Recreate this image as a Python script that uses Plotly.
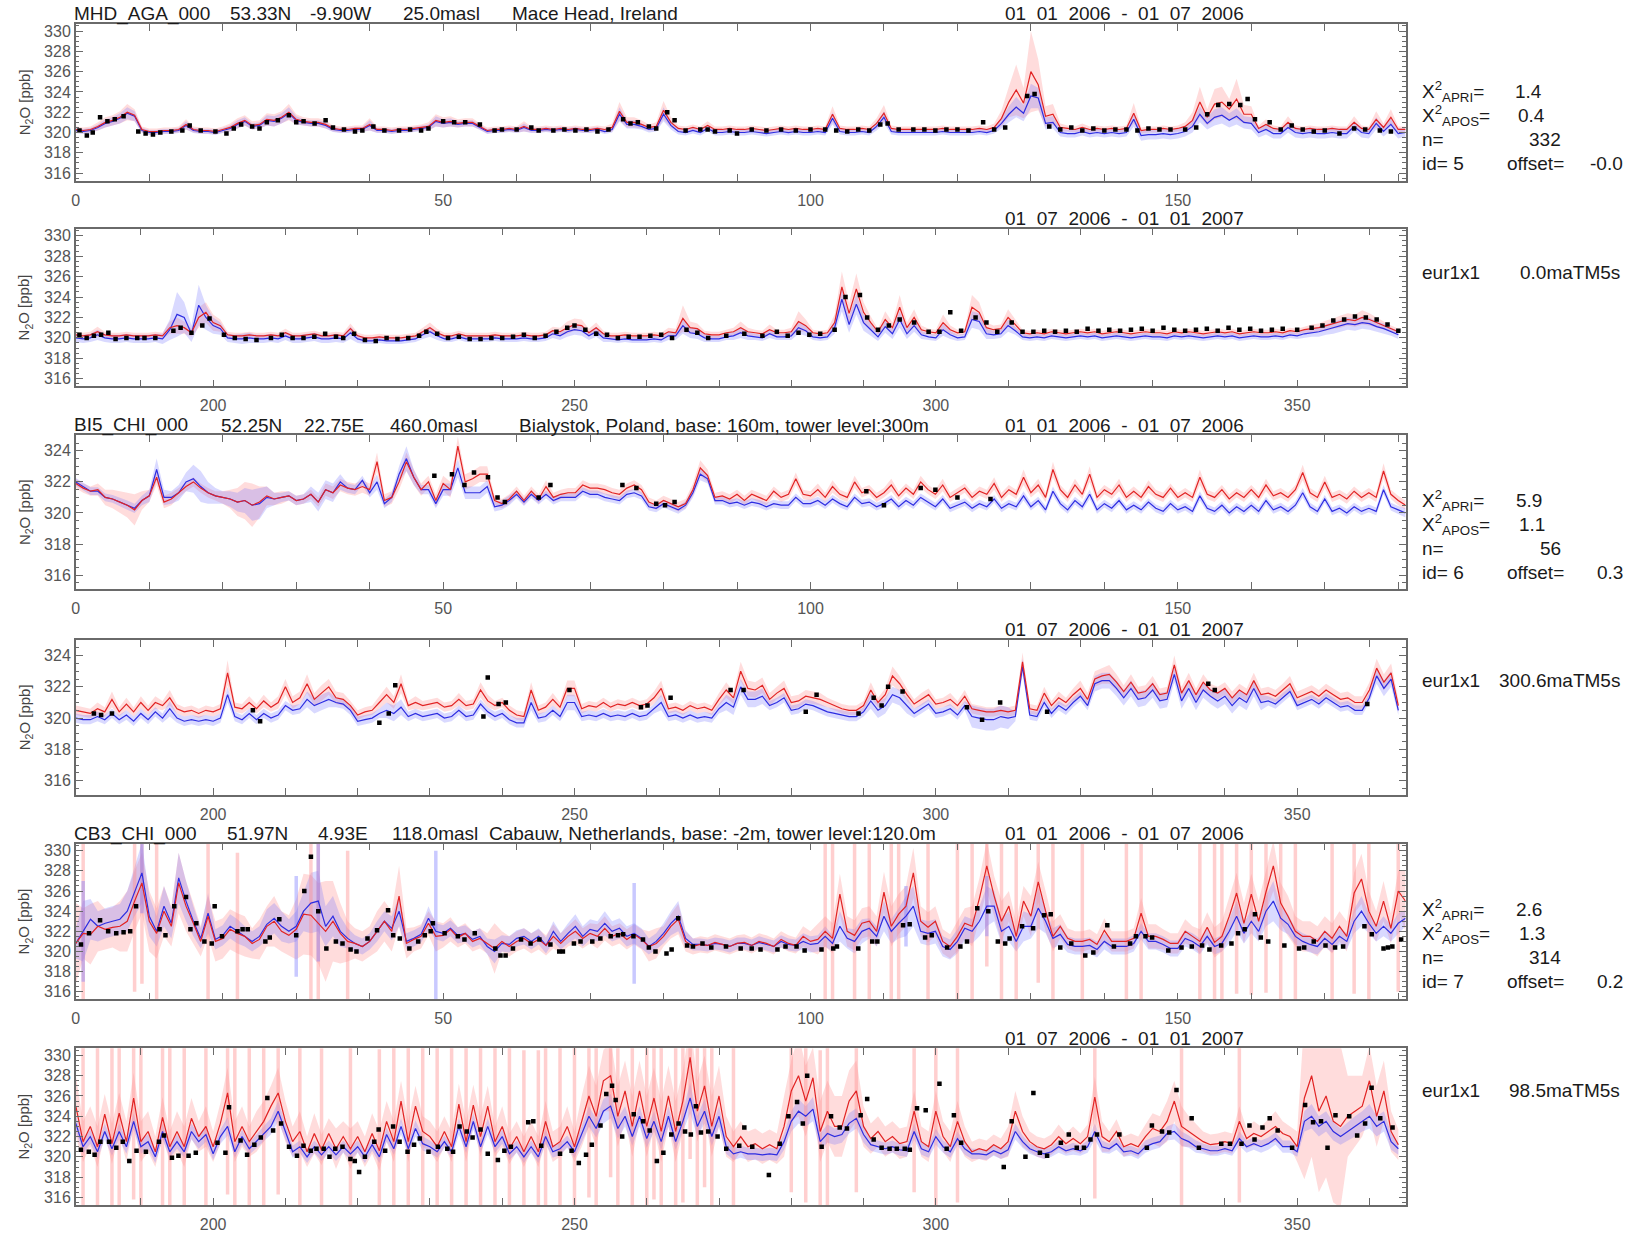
import plotly.graph_objects as go

# ============================ DATA ============================
DAYS = list(range(365))

# ---- Mace Head (MHD) ----
MHD_PRIOR = [
    320.3, 320.2, 320.3, 320.6, 321.0, 321.2, 321.5, 322.0, 321.7, 320.3,
    320.1, 320.1, 320.2, 320.2, 320.3, 320.8, 320.3, 320.2, 320.2, 320.1,
    320.3, 320.5, 320.9, 321.2, 320.7, 320.8, 321.3, 321.2, 321.5, 322.0,
    321.3, 321.1, 321.0, 321.0, 320.8, 320.4, 320.3, 320.3, 320.4, 320.4,
    320.8, 320.3, 320.3, 320.2, 320.3, 320.3, 320.4, 320.5, 320.6, 321.2,
    321.0, 321.1, 320.9, 321.0, 321.0, 320.6, 320.2, 320.3, 320.3, 320.4,
    320.3, 320.6, 320.3, 320.3, 320.4, 320.3, 320.4, 320.3, 320.4, 320.3,
    320.3, 320.4, 320.3, 320.5, 322.1, 321.0, 321.0, 320.8, 320.5, 320.6,
    322.2, 321.0, 320.4, 320.3, 320.5, 320.3, 320.7, 320.3, 320.3, 320.4,
    320.3, 320.3, 320.4, 320.3, 320.2, 320.3, 320.4, 320.3, 320.4, 320.3,
    320.3, 320.4, 320.3, 321.8, 320.4, 320.3, 320.3, 320.4, 320.3, 320.9,
    321.9, 320.4, 320.3, 320.3, 320.3, 320.3, 320.3, 320.3, 320.4, 320.3,
    320.3, 320.3, 320.3, 320.4, 320.3, 320.5, 321.4, 323.0, 324.2, 322.9,
    326.0, 324.7, 321.6, 321.8, 320.5, 320.4, 320.3, 320.5, 320.3, 320.4,
    320.3, 320.4, 320.3, 320.4, 321.9, 320.2, 320.3, 320.3, 320.4, 320.3,
    320.4, 320.6, 321.2, 323.0, 321.5, 322.8, 323.0, 322.3, 323.3, 321.8,
    321.8, 320.4, 320.8, 320.4, 320.3, 321.0, 320.4, 320.3, 320.4, 320.3,
    320.3, 320.4, 320.3, 320.3, 321.0, 320.4, 320.3, 321.3, 320.5, 321.5,
    320.3,
    320.3, 320.2, 320.3, 320.6, 320.3, 320.2, 320.2, 320.3, 320.2, 320.2,
    320.2, 320.3, 320.2, 321.0, 321.2, 321.0, 320.5, 322.0, 322.5, 321.5,
    321.2, 320.3, 320.2, 320.2, 320.3, 320.2, 320.2, 320.3, 320.2, 320.5,
    320.2, 320.2, 320.3, 320.4, 320.2, 320.2, 320.3, 320.2, 320.9, 320.2,
    320.0, 320.0, 320.1, 320.0, 320.0, 320.0, 320.1, 320.2, 320.6, 321.0,
    320.5, 320.2, 320.2, 320.4, 320.2, 320.2, 320.2, 320.2, 320.3, 320.2,
    320.2, 320.2, 320.3, 320.2, 320.2, 320.3, 320.7, 320.6, 321.0, 321.3,
    321.2, 320.5, 321.0, 320.4, 320.2, 320.2, 320.3, 320.2, 320.2, 320.2,
    320.3, 320.2, 320.6, 320.5, 321.9, 321.0, 320.9, 320.4, 320.3, 320.3,
    320.5, 320.6, 321.0, 320.6, 320.5, 320.4, 320.8, 320.5, 320.5, 320.6,
    321.6, 321.2, 320.5, 320.4, 320.5, 321.5, 325.0, 322.4, 324.8, 322.5,
    321.5, 320.6, 321.8, 321.0, 323.0, 321.0, 322.0, 320.8, 320.6, 320.5,
    321.5, 320.8, 320.5, 320.6, 323.0, 322.5, 321.0, 320.8, 320.9, 322.0,
    321.3, 320.5, 320.4, 320.5, 320.4, 320.6, 320.5, 320.4, 320.5, 320.6,
    320.5, 320.6, 320.4, 320.5, 320.6, 320.5, 320.4, 320.5, 320.6, 320.5,
    320.5, 320.4, 320.6, 320.5, 320.6, 320.5, 320.4, 320.5, 320.6, 320.5,
    320.6, 320.4, 320.5, 320.6, 320.5, 320.5, 320.6, 320.5, 320.7, 320.6,
    320.8, 320.9, 321.0, 321.2, 321.4, 321.6, 321.8, 321.7, 322.0, 321.8,
    321.5, 321.2, 320.9, 320.6,
]
MHD_POST = [
    320.2, 320.1, 320.2, 320.5, 320.9, 321.1, 321.4, 321.9, 321.6, 320.2,
    320.0, 320.0, 320.1, 320.1, 320.2, 320.7, 320.2, 320.1, 320.1, 320.0,
    320.2, 320.4, 320.8, 321.1, 320.6, 320.7, 321.2, 321.1, 321.4, 321.9,
    321.2, 321.0, 320.9, 320.9, 320.7, 320.3, 320.2, 320.2, 320.3, 320.3,
    320.7, 320.2, 320.2, 320.1, 320.2, 320.2, 320.3, 320.4, 320.5, 321.1,
    320.9, 321.0, 320.8, 320.9, 320.9, 320.5, 320.1, 320.2, 320.2, 320.3,
    320.2, 320.5, 320.2, 320.2, 320.3, 320.2, 320.3, 320.2, 320.3, 320.2,
    320.2, 320.3, 320.1, 320.3, 321.8, 320.8, 320.8, 320.6, 320.3, 320.4,
    321.8, 320.7, 320.1, 320.0, 320.2, 320.0, 320.4, 320.0, 320.0, 320.1,
    320.0, 320.0, 320.1, 320.0, 319.9, 320.0, 320.1, 320.0, 320.1, 320.0,
    320.0, 320.1, 320.0, 321.4, 320.1, 320.0, 320.0, 320.1, 320.0, 320.6,
    321.5, 320.1, 320.0, 320.0, 320.0, 320.0, 320.0, 320.0, 320.1, 320.0,
    320.0, 320.0, 320.0, 320.1, 320.0, 320.2, 320.9, 321.8, 322.5, 321.9,
    323.6, 323.4, 320.9, 321.0, 320.0, 319.9, 319.9, 320.1, 319.9, 320.0,
    319.9, 320.0, 319.9, 320.0, 321.3, 319.7, 319.8, 319.8, 319.9, 319.8,
    319.9, 320.1, 320.6, 321.8, 320.9, 321.5, 321.7, 321.2, 321.6, 321.0,
    320.9, 320.0, 320.3, 319.9, 319.9, 320.5, 320.0, 319.9, 320.0, 319.9,
    319.9, 320.0, 319.9, 319.9, 320.6, 320.0, 319.9, 320.9, 320.1, 320.8,
    319.9,
    320.0, 319.9, 320.0, 320.3, 320.0, 319.9, 319.9, 320.0, 319.9, 319.9,
    319.9, 320.0, 319.9, 320.8, 322.3, 322.0, 320.4, 323.2, 322.0, 321.2,
    320.9, 320.0, 319.9, 319.9, 320.0, 319.9, 319.9, 320.0, 319.9, 320.2,
    319.9, 319.9, 320.0, 320.1, 319.9, 319.9, 320.0, 319.9, 320.5, 319.9,
    319.7, 319.7, 319.8, 319.7, 319.7, 319.7, 319.8, 319.9, 320.3, 320.6,
    320.2, 319.9, 319.9, 320.1, 319.9, 319.9, 319.9, 319.9, 320.0, 319.9,
    319.9, 319.9, 320.0, 319.9, 319.9, 320.0, 320.4, 320.2, 320.6, 320.8,
    320.7, 320.2, 320.6, 320.0, 319.9, 319.8, 319.9, 319.8, 319.8, 319.8,
    319.9, 319.8, 320.2, 320.2, 321.2, 320.5, 320.4, 320.0, 319.9, 319.9,
    320.1, 320.2, 320.5, 320.2, 320.1, 320.0, 320.4, 320.1, 320.1, 320.2,
    321.0, 320.7, 320.1, 320.0, 320.1, 321.0, 323.8, 321.3, 323.3, 321.5,
    320.8, 320.1, 321.1, 320.4, 321.8, 320.4, 321.2, 320.3, 320.1, 320.0,
    320.8, 320.3, 320.0, 320.1, 321.8, 321.6, 320.4, 320.3, 320.4, 321.2,
    320.7, 320.1, 320.0, 320.1, 320.0, 320.2, 320.1, 320.0, 320.1, 320.2,
    320.1, 320.2, 320.0, 320.1, 320.2, 320.1, 320.0, 320.1, 320.2, 320.1,
    320.1, 320.0, 320.2, 320.1, 320.2, 320.1, 320.0, 320.1, 320.2, 320.1,
    320.2, 320.0, 320.1, 320.2, 320.1, 320.1, 320.2, 320.1, 320.3, 320.2,
    320.4, 320.5, 320.6, 320.8, 321.0, 321.2, 321.4, 321.3, 321.5, 321.4,
    321.1, 320.9, 320.6, 320.3,
]
MHD_PRIOR_UNC = [
    .3, .3, .3, .4, .5, .5, .6, .8, .6, .3,
    .3, .3, .3, .3, .3, .5, .3, .3, .3, .3,
    .3, .4, .5, .5, .4, .4, .6, .6, .6, .8,
    .5, .4, .4, .4, .4, .3, .3, .3, .3, .3,
    .6, .3, .3, .3, .3, .3, .3, .3, .4, .6,
    .5, .5, .4, .4, .4, .3, .3, .3, .3, .3,
    .3, .5, .3, .3, .3, .3, .3, .3, .3, .3,
    .3, .3, .3, .4, .9, .5, .5, .4, .3, .4,
    .9, .5, .3, .3, .3, .3, .4, .3, .3, .3,
    .3, .3, .3, .3, .3, .3, .3, .3, .3, .3,
    .3, .3, .3, .8, .3, .3, .3, .3, .3, .5,
    .8, .3, .3, .3, .3, .3, .3, .3, .3, .3,
    .3, .3, .3, .3, .3, .4, .8, 1.5, 2.5, 1.5,
    4.0, 2.5, 1.0, 1.0, .4, .3, .3, .4, .3, .3,
    .3, .3, .3, .3, 1.0, .3, .3, .3, .3, .3,
    .3, .4, .8, 1.5, .8, 1.5, 1.5, 1.0, 2.0, .9,
    .8, .3, .5, .3, .3, .6, .3, .3, .3, .3,
    .3, .3, .3, .3, .6, .3, .3, .8, .4, .8,
    .3,
    .3, .3, .3, .5, .3, .3, .3, .3, .3, .3,
    .3, .3, .3, .6, .8, .6, .4, 1.0, 1.0, .8,
    .6, .3, .3, .3, .3, .3, .3, .3, .3, .4,
    .3, .3, .3, .3, .3, .3, .3, .3, .5, .3,
    .3, .3, .3, .3, .3, .3, .3, .3, .4, .5,
    .4, .3, .3, .3, .3, .3, .3, .3, .3, .3,
    .3, .3, .3, .3, .3, .3, .4, .4, .6, .6,
    .6, .4, .5, .3, .3, .3, .3, .3, .3, .3,
    .3, .3, .4, .4, 1.3, .6, .5, .3, .3, .3,
    .3, .4, .6, .4, .3, .3, .5, .3, .3, .4,
    1.0, .6, .3, .3, .3, .8, 1.5, 1.0, 1.5, 1.0,
    .6, .3, .8, .5, 1.2, .5, .8, .4, .3, .3,
    .8, .4, .3, .3, 1.2, 1.0, .5, .4, .4, .8,
    .5, .3, .3, .3, .3, .3, .3, .3, .3, .3,
    .3, .3, .3, .3, .3, .3, .3, .3, .3, .3,
    .3, .3, .3, .3, .3, .3, .3, .3, .3, .3,
    .3, .3, .3, .3, .3, .3, .3, .3, .3, .3,
    .3, .4, .4, .5, .5, .6, .6, .6, .7, .6,
    .5, .4, .3, .3,
]
MHD_POST_UNC = [
    .25, .25, .25, .3, .4, .4, .5, .6, .5, .25,
    .25, .25, .25, .25, .25, .4, .25, .25, .25, .25,
    .25, .3, .4, .4, .3, .3, .5, .5, .5, .6,
    .4, .3, .3, .3, .3, .25, .25, .25, .25, .25,
    .5, .25, .25, .25, .25, .25, .25, .25, .3, .5,
    .4, .4, .3, .3, .3, .25, .25, .25, .25, .25,
    .25, .4, .25, .25, .25, .25, .25, .25, .25, .25,
    .25, .25, .25, .3, .7, .4, .4, .3, .3, .3,
    .7, .4, .3, .3, .3, .3, .3, .3, .3, .3,
    .3, .3, .3, .3, .3, .3, .3, .3, .3, .3,
    .3, .3, .3, .6, .3, .3, .3, .3, .3, .4,
    .6, .3, .3, .3, .3, .3, .3, .3, .3, .3,
    .3, .3, .3, .3, .3, .3, .5, .8, 1.0, .8,
    1.2, 1.0, .6, .6, .4, .4, .4, .4, .4, .4,
    .4, .4, .4, .4, .7, .5, .5, .5, .5, .5,
    .5, .5, .6, .8, .6, .8, .8, .7, .8, .6,
    .6, .5, .5, .5, .5, .5, .5, .5, .5, .5,
    .5, .5, .5, .5, .5, .5, .5, .6, .5, .6,
    .5,
    .4, .4, .4, .5, .4, .4, .4, .4, .4, .4,
    .4, .4, .5, 1.0, 2.2, 1.5, .8, 2.0, 1.2, .8,
    .6, .4, .4, .5, .5, .4, .4, .4, .4, .4,
    .4, .4, .4, .4, .4, .4, .4, .4, .6, .4,
    .3, .3, .3, .3, .3, .3, .3, .3, .4, .5,
    .4, .3, .3, .3, .3, .3, .3, .3, .3, .3,
    .3, .3, .3, .3, .3, .3, .4, .4, .5, .5,
    .5, .4, .5, .4, .3, .3, .3, .3, .3, .3,
    .3, .3, .4, .4, .8, .5, .5, .4, .3, .3,
    .3, .4, .5, .4, .3, .3, .4, .3, .3, .4,
    .6, .5, .3, .3, .3, .6, 1.2, .8, 1.0, .8,
    .6, .4, .6, .5, .8, .5, .6, .4, .3, .3,
    .6, .4, .3, .3, .8, .8, .5, .4, .4, .6,
    .4, .3, .3, .3, .3, .3, .3, .3, .3, .3,
    .3, .3, .3, .3, .3, .3, .3, .3, .3, .3,
    .3, .3, .3, .3, .3, .3, .3, .3, .3, .3,
    .3, .3, .3, .3, .3, .3, .3, .3, .3, .3,
    .4, .4, .5, .5, .6, .6, .6, .6, .6, .6,
    .5, .5, .4, .4,
]
MHD_PRIOR_STREAKS = []
MHD_POST_STREAKS = []
MHD_OBS = [
    (0.5, 320.2), (1.5, 319.7), (2.3, 320.0), (3.3, 321.5), (4.3, 321.1), (5.3, 321.3),
    (6.5, 321.6), (8.5, 320.1), (9.5, 319.9), (10.5, 319.8), (11.5, 320.0), (13, 320.1),
    (14.5, 320.2), (15.5, 320.7), (17, 320.2), (19, 320.1), (20.5, 319.9), (21.5, 320.4),
    (22.5, 320.8), (24, 320.6), (25, 320.4), (26, 321.0), (27.5, 321.2), (29, 321.7),
    (30, 321.0), (31, 321.1), (32.5, 320.9), (34, 321.2), (35, 320.5), (36.5, 320.3),
    (38, 320.1), (39, 320.2), (40.5, 320.6), (42, 320.2), (44, 320.2), (45.5, 320.3),
    (47, 320.2), (48, 320.4), (50, 321.1), (51.5, 321.0), (53, 321.0), (55, 320.8),
    (57, 320.2), (58, 320.3), (60, 320.3), (62, 320.5), (63, 320.2), (65, 320.2),
    (66.5, 320.3), (68, 320.2), (69.5, 320.3), (71, 320.1), (72.5, 320.3), (74.5, 321.3),
    (75.5, 320.9), (76.5, 321.0), (78, 320.6), (79, 320.4), (80.5, 322.0), (81.5, 321.2),
    (83, 320.2), (85, 320.3), (86, 320.3), (87, 320.1), (89, 320.2), (90, 319.9),
    (92, 320.3), (94, 320.2), (96, 320.3), (98, 320.2), (100, 320.3), (102, 320.3),
    (103.5, 320.2), (105, 320.1), (106.5, 320.3), (108, 320.2), (109.5, 320.8), (110.5, 320.9),
    (112, 320.3), (114, 320.3), (115.5, 320.3), (117, 320.2), (118.5, 320.3), (120, 320.3),
    (121.5, 320.2), (123.5, 321.0), (125, 320.3), (126.5, 320.5), (129.5, 323.6), (130.5, 323.8),
    (132.5, 320.6), (134, 320.3), (135.5, 320.5), (137, 320.2), (138.5, 320.4), (140, 320.2),
    (141.5, 320.3), (143, 320.3), (144.5, 320.2), (146, 320.4), (147.5, 320.3), (149, 320.3),
    (151, 320.3), (152.5, 320.5), (154, 321.8), (155.5, 322.7), (157, 322.8), (158.5, 322.7),
    (159.5, 323.3), (160.5, 321.3), (162.5, 321.0), (164, 320.3), (165.5, 320.7), (167, 320.3),
    (168.5, 320.1), (170, 320.2), (172, 319.9), (174, 320.4), (175.5, 320.3), (177.5, 320.2),
    (179, 320.1),
    (181.5, 320.3), (182.5, 320.0), (183.5, 320.2), (184.5, 320.3), (185.5, 320.5), (186.5, 319.9),
    (188, 320.0), (189.5, 320.0), (190.5, 320.0), (192, 320.0), (194.5, 320.7), (195.5, 321.0),
    (197, 320.5), (198.5, 321.2), (199.5, 321.9), (201.5, 320.3), (203, 320.0), (204.5, 319.9),
    (206, 319.8), (208, 320.0), (209.5, 320.3), (211, 320.0), (212.5, 320.0), (214, 320.1),
    (215.5, 320.4), (217, 320.1), (218, 320.0), (219.5, 320.4), (221, 319.8), (222.5, 319.7),
    (224, 320.0), (225.5, 319.9), (227, 320.0), (228.5, 320.2), (229.5, 320.6), (231, 320.4),
    (232.5, 320.0), (234, 320.1), (235.5, 319.9), (237, 319.9), (238.5, 320.0), (240, 320.0),
    (241.5, 320.1), (243, 320.3), (244.5, 320.0), (246, 320.2), (247.5, 320.6), (249, 321.0),
    (250, 321.2), (251.5, 320.8), (253, 320.4), (254.5, 320.3), (256, 320.0), (257.5, 320.1),
    (259, 320.1), (260.5, 320.2), (262, 320.3), (263.5, 320.0), (265.5, 320.8), (267, 320.5),
    (268.5, 320.0), (271, 320.2), (273.5, 320.4), (276, 320.2), (278, 320.6), (279.5, 320.2),
    (281, 320.5), (282.5, 320.3), (284, 320.4), (286, 320.8), (287.5, 324.0), (289.5, 324.2),
    (290.5, 322.0), (292, 320.8), (293.5, 321.2), (295, 321.8), (297, 321.5), (299, 320.6),
    (300.5, 320.6), (302, 322.5), (303.5, 320.7), (305.5, 322.0), (307, 321.5), (308.5, 320.6),
    (310.5, 321.5), (312, 320.6), (313.5, 320.6), (315, 320.7), (316.5, 320.6), (318, 320.7),
    (319.5, 320.6), (321, 320.9), (322.5, 320.7), (324, 320.8), (325.5, 320.7), (327, 320.8),
    (328.5, 320.9), (330, 320.7), (331.5, 321.0), (333, 320.8), (334.5, 320.7), (336, 320.8),
    (337.5, 320.9), (339, 320.7), (340.5, 321.0), (342, 320.8), (343.5, 320.9), (345, 320.7),
    (346.5, 320.8), (348, 320.9), (350, 320.8), (352, 321.0), (353.5, 321.2), (355, 321.7),
    (356.5, 321.8), (358, 322.1), (359.5, 322.0), (361, 321.8), (362.5, 321.3), (364, 320.7),
]

# ---- Bialystok (BI5) ----
BI5_PRIOR = [
    321.9, 321.6, 321.4, 321.5, 321.0, 320.9, 320.7, 320.5, 320.2, 320.8,
    321.1, 322.3, 320.7, 320.9, 321.3, 321.7, 322.0, 321.6, 321.3, 321.1,
    321.0, 320.9, 320.7, 320.8, 320.5, 320.7, 321.1, 320.9, 321.0, 321.1,
    320.8, 320.9, 321.2, 320.7, 321.5, 321.3, 321.8, 321.6, 321.5, 321.7,
    321.5, 323.3, 320.8, 321.0, 322.0, 323.3, 322.3, 321.5, 322.0, 320.8,
    321.9, 321.5, 324.3, 322.0, 322.2, 322.5, 322.5, 320.8, 320.6, 320.9,
    321.4, 320.8, 321.4, 320.9, 321.7, 321.0, 321.2, 321.3, 321.3, 321.8,
    321.6, 321.6, 321.5, 321.3, 321.2, 321.6, 321.8, 321.5, 320.7, 320.5,
    320.8, 320.6, 320.4, 320.6, 321.5, 322.9, 322.4, 321.0, 321.1, 320.9,
    321.2, 320.8, 321.2, 321.0, 320.8, 321.4, 321.0, 321.2, 322.2, 321.2,
    321.1, 321.5, 321.0, 321.7, 321.2, 321.0, 322.0, 321.3, 321.5, 321.0,
    321.3, 321.8, 321.1, 321.6, 321.2, 322.0, 321.5, 321.2, 321.8, 321.0,
    321.3, 321.6, 321.0, 321.4, 321.2, 321.9, 321.0, 321.5, 321.2, 322.3,
    321.3, 321.8, 321.0, 322.8, 321.5, 321.0, 321.8, 321.2, 322.5, 321.0,
    321.5, 321.2, 321.8, 321.0, 321.4, 321.0, 321.7, 321.2, 321.0, 321.6,
    321.0, 321.3, 321.0, 322.3, 321.2, 321.0, 321.5, 320.9, 321.3, 321.0,
    321.5, 321.0, 321.8, 321.1, 321.3, 321.0, 321.5, 322.6, 321.3, 321.0,
    322.0, 321.0, 321.2, 320.9, 321.4, 321.0, 321.3, 321.0, 322.7, 321.2,
    320.8,
    320.5, 320.4, 320.3, 320.6, 320.4, 321.2, 320.4, 320.9, 320.4, 321.0,
    320.5, 321.0, 320.8, 321.3, 320.6, 320.4, 320.5, 320.3, 320.5, 320.4,
    320.6, 322.9, 320.7, 320.6, 321.0, 320.6, 321.1, 320.7, 321.0, 322.0,
    321.0, 321.3, 322.2, 321.2, 321.6, 322.0, 321.3, 321.2, 320.8, 320.2,
    320.4, 320.5, 321.0, 321.5, 321.0, 322.2, 320.8, 321.0, 320.8, 320.9,
    321.0, 320.7, 320.8, 321.2, 320.8, 320.9, 321.8, 321.1, 320.8, 321.0,
    320.5, 320.2, 320.1, 321.8, 320.5, 320.7, 321.2, 320.7, 321.9, 321.9,
    320.6, 320.8, 320.7, 321.0, 320.7, 320.9, 320.8, 321.0, 320.8, 320.9,
    321.3, 321.9, 320.6, 320.7, 320.5, 320.8, 320.6, 320.7, 320.5, 321.2,
    321.8, 321.3, 323.0, 321.9, 321.8, 322.1, 321.2, 321.6, 321.9, 321.0,
    321.1, 321.4, 321.3, 321.2, 321.0, 320.8, 320.6, 320.5, 320.5, 320.8,
    321.8, 321.0, 321.5, 322.7, 322.2, 321.5, 320.9, 321.2, 321.5, 320.9,
    321.0, 321.2, 320.8, 321.4, 320.6, 320.5, 320.4, 320.4, 320.5, 320.4,
    320.5, 323.6, 320.6, 320.5, 321.6, 320.8, 321.3, 321.0, 321.5, 321.9,
    321.2, 322.5, 322.7, 322.8, 322.3, 321.7, 322.3, 321.6, 321.7, 322.2,
    321.5, 321.6, 323.4, 321.6, 322.4, 321.5, 322.3, 321.8, 321.6, 321.9,
    321.3, 321.8, 321.5, 322.4, 321.5, 321.6, 321.4, 321.8, 322.2, 321.3,
    321.5, 321.7, 321.4, 321.8, 321.5, 321.2, 321.3, 321.0, 321.0, 321.8,
    323.2, 322.3, 322.9, 320.8,
]
BI5_POST = [
    322.0, 321.7, 321.4, 321.4, 321.0, 320.9, 320.7, 320.5, 320.3, 320.8,
    321.1, 322.8, 321.0, 321.0, 321.3, 322.0, 322.2, 321.7, 321.3, 321.1,
    321.0, 320.9, 320.7, 320.8, 320.5, 320.6, 321.0, 320.9, 321.0, 321.1,
    320.8, 320.9, 321.2, 320.7, 321.5, 321.3, 322.0, 321.6, 321.5, 322.1,
    321.3, 322.0, 320.6, 321.0, 322.5, 323.5, 322.3, 321.5, 321.5, 320.6,
    321.5, 321.5, 322.9, 321.3, 321.3, 321.3, 321.7, 320.4, 320.5, 320.8,
    321.2, 320.7, 321.2, 320.8, 321.2, 320.8, 321.0, 321.0, 321.0, 321.4,
    321.2, 321.2, 321.0, 320.9, 320.8, 321.2, 321.3, 321.1, 320.4, 320.3,
    320.6, 320.4, 320.2, 320.5, 321.3, 322.5, 322.2, 320.8, 320.8, 320.6,
    320.7, 320.5, 320.7, 320.6, 320.4, 320.6, 320.5, 320.5, 321.0, 320.6,
    320.6, 320.8, 320.5, 320.9, 320.6, 320.4, 321.0, 320.6, 320.7, 320.4,
    320.6, 320.9, 320.4, 320.8, 320.5, 321.0, 320.7, 320.4, 320.9, 320.3,
    320.5, 320.7, 320.3, 320.6, 320.4, 320.9, 320.3, 320.6, 320.4, 321.1,
    320.4, 320.8, 320.2, 321.4, 320.6, 320.2, 320.8, 320.4, 321.2, 320.2,
    320.6, 320.3, 320.8, 320.2, 320.5, 320.2, 320.7, 320.3, 320.1, 320.6,
    320.2, 320.4, 320.1, 321.1, 320.3, 320.1, 320.5, 320.0, 320.4, 320.1,
    320.5, 320.1, 320.8, 320.2, 320.4, 320.1, 320.5, 321.3, 320.4, 320.1,
    320.9, 320.1, 320.3, 320.0, 320.4, 320.1, 320.3, 320.1, 321.5, 320.4,
    320.2,
    320.0, 319.9, 319.9, 320.1, 319.9, 320.3, 319.9, 320.2, 319.8, 320.3,
    319.9, 320.4, 320.0, 320.6, 320.0, 319.8, 319.9, 319.8, 319.9, 319.8,
    320.0, 321.5, 320.1, 319.9, 320.3, 319.9, 320.3, 320.0, 320.2, 320.8,
    320.5, 320.6, 321.2, 320.8, 321.0, 321.2, 321.0, 320.9, 320.5, 319.8,
    319.9, 320.0, 320.3, 320.5, 320.3, 320.7, 320.1, 320.3, 320.1, 320.2,
    320.3, 320.0, 320.1, 320.5, 320.1, 320.2, 320.9, 320.4, 320.1, 320.3,
    319.9, 319.7, 319.7, 321.0, 320.0, 320.1, 320.5, 320.1, 321.0, 321.0,
    320.1, 320.2, 320.1, 320.3, 320.1, 320.2, 320.1, 320.3, 320.1, 320.2,
    320.6, 321.0, 320.1, 320.2, 320.0, 320.2, 320.0, 320.1, 320.0, 320.6,
    321.0, 320.7, 322.0, 321.2, 321.2, 321.4, 320.8, 321.0, 321.3, 320.5,
    320.6, 320.9, 320.8, 320.6, 320.4, 320.3, 320.2, 320.1, 320.1, 320.4,
    321.1, 320.5, 320.8, 321.5, 321.3, 320.8, 320.3, 320.6, 320.9, 320.3,
    320.4, 320.6, 320.2, 320.8, 320.1, 320.0, 319.9, 319.9, 320.1, 320.0,
    320.1, 323.3, 320.2, 320.1, 321.0, 320.3, 320.8, 320.5, 321.0, 321.4,
    320.8, 322.2, 322.4, 322.4, 321.9, 321.3, 321.9, 321.2, 321.3, 321.8,
    321.1, 321.2, 322.8, 321.1, 321.9, 321.0, 321.8, 321.4, 321.1, 321.4,
    320.8, 321.3, 321.0, 321.9, 321.0, 321.1, 320.9, 321.3, 321.7, 320.8,
    321.0, 321.2, 320.9, 321.3, 321.0, 320.7, 320.8, 320.5, 320.5, 321.3,
    322.7, 321.9, 322.5, 320.5,
]
BI5_PRIOR_UNC = [
    .3, .3, .3, .4, .5, .6, .7, .8, 1.0, .6,
    .4, .5, .4, .4, .3, .3, .3, .3, .3, .3,
    .4, .6, .9, 1.2, 1.4, 1.0, .6, .4, .4, .3,
    .3, .3, .3, .3, .4, .4, .4, .4, .4, .4,
    .4, .6, .4, .4, .5, .6, .5, .4, .4, .4,
    .5, .5, .6, .5, .5, .5, .5, .3, .3, .3,
    .3, .3, .3, .3, .4, .3, .3, .3, .3, .3,
    .3, .3, .3, .3, .3, .3, .3, .3, .3, .3,
    .3, .3, .3, .3, .4, .5, .4, .3, .3, .3,
    .3, .3, .3, .3, .3, .3, .3, .3, .4, .3,
    .3, .4, .3, .4, .3, .3, .4, .3, .3, .3,
    .3, .4, .3, .3, .3, .4, .3, .3, .4, .3,
    .3, .3, .3, .3, .3, .4, .3, .3, .3, .5,
    .3, .4, .3, .5, .3, .3, .4, .3, .5, .3,
    .3, .3, .4, .3, .3, .3, .4, .3, .3, .3,
    .3, .3, .3, .5, .3, .3, .3, .3, .3, .3,
    .3, .3, .4, .3, .3, .3, .3, .5, .3, .3,
    .4, .3, .3, .3, .3, .3, .3, .3, .5, .3,
    .3,
    .3, .3, .3, .4, .3, .5, .3, .4, .3, .4,
    .3, .4, .3, .5, .3, .3, .3, .3, .3, .3,
    .3, .8, .3, .3, .4, .3, .4, .3, .4, .5,
    .4, .4, .6, .4, .5, .5, .4, .4, .3, .3,
    .3, .3, .4, .5, .4, .6, .3, .4, .3, .3,
    .3, .3, .3, .4, .3, .3, .5, .4, .3, .3,
    .3, .3, .3, .5, .3, .3, .4, .3, .5, .5,
    .3, .3, .3, .3, .3, .3, .3, .3, .3, .3,
    .4, .5, .3, .3, .3, .3, .3, .3, .3, .4,
    .5, .4, .6, .5, .5, .5, .4, .4, .5, .4,
    .4, .4, .4, .4, .3, .3, .3, .3, .3, .3,
    .5, .3, .4, .6, .5, .4, .3, .4, .4, .3,
    .3, .4, .3, .4, .3, .3, .3, .3, .3, .3,
    .3, .6, .3, .3, .4, .3, .4, .3, .4, .5,
    .4, .5, .5, .6, .5, .4, .5, .4, .4, .5,
    .4, .4, .6, .4, .5, .4, .5, .4, .4, .4,
    .4, .4, .4, .5, .4, .4, .4, .4, .5, .4,
    .4, .4, .4, .4, .4, .4, .4, .4, .4, .5,
    .6, .5, .6, .4,
]
BI5_POST_UNC = [
    .25, .25, .25, .25, .25, .25, .3, .3, .3, .3,
    .4, .7, .5, .4, .5, .6, .9, 1.0, .7, .5,
    .4, .5, .6, .8, 1.0, 1.0, .7, .4, .3, .3,
    .3, .3, .5, .6, .6, .6, .5, .3, .3, .3,
    .3, .5, .3, .3, .5, .8, .5, .3, .3, .3,
    .4, .4, .6, .4, .4, .4, .4, .3, .3, .3,
    .25, .25, .25, .25, .25, .25, .25, .25, .25, .25,
    .25, .25, .25, .25, .25, .25, .25, .25, .25, .25,
    .25, .25, .25, .25, .3, .4, .3, .25, .25, .25,
    .25, .25, .25, .25, .25, .25, .25, .25, .25, .25,
    .25, .25, .25, .25, .25, .25, .25, .25, .25, .25,
    .25, .25, .25, .25, .25, .25, .25, .25, .25, .25,
    .25, .25, .25, .25, .25, .25, .25, .25, .25, .3,
    .25, .25, .25, .3, .25, .25, .25, .25, .3, .25,
    .25, .25, .25, .25, .25, .25, .25, .25, .25, .25,
    .25, .25, .25, .3, .25, .25, .25, .25, .25, .25,
    .25, .25, .25, .25, .25, .25, .25, .3, .25, .25,
    .25, .25, .25, .25, .25, .25, .25, .25, .3, .25,
    .25,
    .3, .3, .3, .3, .3, .3, .3, .3, .3, .3,
    .3, .3, .3, .5, .3, .3, .3, .3, .3, .3,
    .3, .5, .3, .3, .3, .3, .3, .3, .3, .3,
    .3, .3, .5, .5, .5, .5, .3, .3, .3, .3,
    .3, .3, .3, .5, .5, .5, .3, .3, .3, .3,
    .3, .3, .3, .3, .3, .3, .3, .3, .3, .3,
    .3, .3, .3, .5, .3, .3, .3, .3, .5, .5,
    .3, .3, .3, .3, .3, .3, .3, .3, .3, .3,
    .3, .5, .3, .3, .3, .3, .3, .3, .3, .3,
    .5, .5, .5, .5, .5, .5, .3, .3, .3, .3,
    .3, .3, .3, .3, .3, .3, .3, .3, .3, .3,
    .5, .5, .5, .5, .5, .5, .3, .3, .3, .3,
    .3, .3, .3, .3, .7, .7, .7, .7, .7, .7,
    .3, .5, .3, .3, .3, .3, .3, .3, .3, .3,
    .3, .5, .5, .5, .5, .5, .5, .5, .5, .5,
    .5, .5, .5, .5, .5, .5, .5, .5, .5, .5,
    .5, .5, .5, .5, .5, .3, .3, .3, .3, .3,
    .3, .3, .3, .3, .3, .3, .3, .3, .3, .3,
    .5, .5, .5, .3,
]
BI5_PRIOR_STREAKS = []
BI5_POST_STREAKS = []
BI5_OBS = [
    (48.8, 322.4), (51.2, 322.5), (52.9, 321.8), (54.2, 322.6), (56.1, 322.3), (57.4, 321.0),
    (58.4, 320.7), (63.0, 321.0), (64.6, 321.8), (74.4, 321.8), (76.3, 321.6), (79.0, 320.6),
    (80.2, 320.5), (81.5, 320.7), (107.6, 321.4), (110.0, 320.5), (115.0, 321.6), (117.0, 321.5),
    (120.0, 321.0), (124.5, 320.9),
    (183.5, 320.3), (184.5, 320.2), (186.0, 320.3), (205.5, 320.5), (206.5, 319.8), (223.0, 319.7),
    (224.3, 320.3), (225.2, 322.1), (237.4, 320.1), (238.0, 322.6), (239.5, 320.9), (240.5, 321.0),
    (249.3, 321.8), (259.2, 320.7), (260.1, 320.8), (263.3, 321.3), (271.6, 321.8), (273.4, 321.8),
    (282.0, 320.4), (283.5, 321.5), (289.3, 320.3), (291.4, 321.3), (292.5, 320.8), (293.4, 322.0),
    (295.4, 321.7), (304.3, 320.7), (306.4, 319.9), (308.9, 321.0), (315.4, 320.4), (337.7, 322.2),
    (338.6, 321.8), (359.7, 320.9),
]

# ---- Cabauw (CB3) ----
CB3_PRIOR = [
    320.8, 321.8, 321.7, 322.5, 322.2, 322.4, 322.5, 323.0, 325.0, 326.8,
    323.0, 321.8, 324.0, 322.5, 326.8, 324.5, 322.8, 321.0, 323.5, 321.0,
    321.3, 322.2, 321.8, 321.5, 320.8, 321.2, 322.5, 323.0, 322.0, 321.6,
    322.2, 323.7, 323.6, 322.8, 322.0, 323.0, 321.8, 321.0, 320.8, 320.5,
    321.0, 322.0, 323.0, 322.0, 325.5, 320.8, 321.2, 321.5, 322.8, 321.5,
    321.6, 322.2, 321.4, 321.8, 321.0, 321.3, 320.8, 320.3, 321.0, 320.5,
    321.0, 321.3, 320.8, 321.2, 320.6, 321.5, 320.8, 321.5, 322.0, 321.3,
    321.8, 321.5, 322.3, 321.5, 321.8, 321.2, 321.7, 321.2, 320.5, 320.8,
    321.5, 322.5, 323.2, 321.0, 320.5, 320.7, 320.6, 320.9, 320.7, 320.5,
    320.8, 320.9, 320.6, 321.0, 320.8, 320.5, 321.2, 320.8, 320.6, 321.5,
    321.0, 321.2, 322.0, 321.3, 325.7, 322.0, 321.6, 322.8, 323.0, 322.0,
    325.9, 322.5, 323.7, 324.5, 327.8, 323.0, 322.4, 323.0, 321.0, 320.5,
    321.5, 322.8, 322.5, 325.3, 328.5, 325.5, 323.0, 324.5, 321.5, 325.0,
    323.5, 326.9, 324.0, 321.5, 322.5, 321.3, 321.0, 321.0, 321.2, 320.7,
    322.1, 321.0, 321.0, 321.0, 321.3, 323.8, 321.5, 321.5, 321.2, 320.8,
    320.8, 322.0, 321.5, 321.0, 322.4, 320.9, 321.5, 323.5, 325.8, 322.8,
    325.7, 323.0, 325.9, 328.5, 324.8, 323.5, 322.0, 321.5, 321.5, 321.0,
    322.0, 321.3, 322.5, 321.5, 325.8, 327.2, 324.0, 322.5, 325.0, 322.3,
    326.0,
    325.0, 321.5, 323.0, 321.0, 324.2, 321.3, 324.3, 321.5, 325.8, 321.5,
    322.5, 320.5, 323.9, 321.0, 322.5, 321.0, 323.8, 322.0, 323.0, 321.0,
    323.3, 326.3, 321.5, 323.0, 321.5, 322.5, 323.5, 325.0, 326.3, 323.5,
    321.5, 322.5, 320.5, 322.3, 320.7, 322.3, 320.8, 322.0, 320.8, 322.0,
    320.5, 322.3, 320.6, 323.5, 321.5, 325.5, 321.5, 325.0, 322.5, 322.0,
    321.0, 322.5, 321.0, 325.2, 321.5, 325.1, 322.0, 325.0, 321.5, 323.0,
    320.8, 322.0, 320.5, 322.0, 320.5, 323.5, 321.0, 321.5, 323.0, 321.0,
    323.5, 326.0, 324.0, 327.5, 328.0, 324.0, 326.5, 323.0, 326.5, 323.0,
    325.8, 322.5, 326.0, 322.5, 325.5, 329.8, 324.5, 327.0, 323.0, 326.0,
    322.0, 321.0, 322.0, 321.0, 321.3, 320.8, 321.2, 320.8, 323.0, 326.5,
    328.0, 325.5, 327.8, 322.5, 324.5, 323.0, 323.0, 325.5, 326.5, 323.0,
    321.8, 322.5, 321.5, 322.0, 321.3, 321.5, 324.5, 321.5, 321.0, 324.5,
    322.0, 321.0, 323.5, 321.5, 320.5, 320.8, 320.6, 321.2, 320.8, 321.5,
    324.5, 322.5, 321.5, 321.0, 320.8, 321.2, 322.0, 321.3, 321.8, 321.3,
    322.0, 325.9, 322.0, 321.5, 322.5, 321.0, 321.3, 321.0, 322.0, 322.8,
    322.5, 323.5, 325.5, 323.0, 322.5, 322.0, 321.5, 321.2, 321.3, 321.5,
    321.3, 323.5, 321.8, 322.3, 322.0, 322.5, 323.0, 322.3, 322.0, 321.0,
    325.8, 328.0, 324.5, 326.0, 323.5, 323.0, 324.0, 324.5, 325.0, 327.5,
    324.0, 326.5, 322.5, 321.2,
]
CB3_POST = [
    320.8, 322.0, 323.2, 322.5, 322.8, 323.0, 323.2, 324.0, 326.0, 327.8,
    323.5, 322.0, 324.5, 322.8, 327.3, 325.0, 323.0, 321.3, 323.8, 321.2,
    321.6, 322.5, 322.0, 321.5, 321.0, 321.5, 322.7, 323.3, 322.5, 322.0,
    322.5, 324.0, 324.8, 325.0, 322.5, 323.5, 322.0, 321.3, 320.8, 320.5,
    321.0, 322.0, 323.0, 322.3, 324.0, 321.0, 321.3, 321.7, 323.3, 322.0,
    321.8, 322.3, 321.6, 321.8, 321.2, 321.5, 320.5, 320.0, 320.8, 320.7,
    321.3, 321.5, 321.0, 321.5, 320.6, 322.0, 321.0, 321.8, 322.5, 321.5,
    322.2, 322.0, 322.8, 322.0, 322.3, 321.5, 321.8, 321.3, 320.5, 321.0,
    321.8, 322.8, 323.5, 321.3, 320.7, 320.7, 320.6, 320.8, 320.7, 320.5,
    320.8, 320.8, 320.6, 320.9, 320.7, 320.5, 321.0, 320.7, 320.6, 321.0,
    320.7, 320.8, 321.5, 320.8, 322.5, 321.3, 321.0, 322.0, 322.3, 321.5,
    323.5, 322.0, 322.8, 323.5, 324.5, 322.0, 321.8, 322.0, 320.5, 320.2,
    321.0, 322.3, 322.0, 323.0, 324.5, 324.5, 322.0, 322.5, 321.0, 322.5,
    322.5, 324.3, 323.0, 321.3, 321.7, 320.7, 320.5, 320.5, 320.6, 320.2,
    321.0, 320.5, 320.5, 320.5, 320.8, 322.0, 321.0, 321.0, 320.7, 320.3,
    320.3, 321.3, 321.0, 320.5, 321.5, 320.5, 320.8, 322.0, 323.5, 321.8,
    323.0, 322.0, 324.0, 325.0, 323.3, 322.7, 321.5, 321.0, 320.7, 320.5,
    321.3, 320.7, 321.5, 321.0, 323.0, 324.0, 322.8, 321.8, 322.5, 321.8,
    322.8,
    323.3, 321.0, 322.0, 320.5, 322.5, 320.8, 322.5, 321.0, 323.5, 321.0,
    321.5, 320.0, 322.5, 320.5, 321.5, 320.5, 322.5, 321.5, 322.2, 320.3,
    322.0, 323.0, 320.5, 322.0, 320.8, 321.5, 322.2, 323.0, 324.5, 322.5,
    320.5, 321.0, 320.0, 321.0, 320.2, 321.0, 320.2, 321.0, 320.3, 321.0,
    320.0, 321.2, 320.0, 322.2, 320.8, 323.0, 320.8, 322.8, 321.3, 321.0,
    320.5, 321.5, 320.5, 323.0, 321.0, 323.5, 321.0, 323.0, 321.0, 322.0,
    320.3, 321.0, 320.0, 321.0, 320.0, 322.0, 320.5, 320.8, 321.5, 320.5,
    322.2, 324.0, 322.8, 324.5, 325.0, 322.8, 324.0, 322.0, 324.0, 321.8,
    323.5, 321.5, 324.0, 321.5, 323.5, 325.8, 323.0, 324.5, 322.0, 324.0,
    321.0, 320.3, 320.5, 320.3, 320.3, 320.2, 320.3, 320.2, 321.5, 323.5,
    324.5, 324.0, 324.7, 321.5, 322.3, 322.0, 322.2, 323.3, 323.8, 322.2,
    321.2, 321.0, 320.8, 321.0, 320.7, 320.6, 322.5, 320.8, 320.5, 322.0,
    321.0, 320.5, 321.8, 320.8, 320.3, 320.3, 320.2, 320.6, 320.3, 320.7,
    322.5, 321.5, 320.8, 320.5, 320.3, 320.5, 321.0, 320.6, 320.8, 320.6,
    321.0, 322.5, 321.0, 320.8, 321.3, 320.5, 320.6, 320.3, 321.0, 321.3,
    321.5, 322.3, 322.5, 321.8, 321.5, 321.0, 320.8, 320.6, 320.6, 320.8,
    320.6, 321.8, 321.0, 321.3, 321.0, 321.3, 321.8, 321.0, 321.0, 320.5,
    323.5, 324.0, 323.0, 323.5, 322.5, 322.0, 322.5, 323.0, 323.5, 324.0,
    323.0, 323.5, 321.5, 320.8,
]
CB3_PRIOR_UNC = [
    4, 2.5, 3, 2.5, 2, 2, 2.5, 3, 3, 3,
    3, 2.5, 2.5, 2, 3, 2.5, 2, 1.5, 2, 2,
    2, 2, 2, 2, 1.5, 2, 2, 2.5, 2, 2,
    3, 4, 4, 4, 5, 4, 3, 2, 1.5, 1.5,
    1.5, 2, 2, 2, 3, 1.5, 1.2, 1.2, 1.2, 1.5,
    1.2, 1.2, 1.0, 1.0, 1.0, 1.0, 1.0, 2.5, 1.0, 1.0,
    1.0, 1.0, 1.0, 1.0, 1.0, 1.2, 1.0, 1.0, 1.2, 1.0,
    1.0, 1.2, 1.2, 1.0, 1.0, 1.0, 1.0, 1.0, 1.5, 1.5,
    1.0, 1.2, 1.5, 1.0, 0.8, 0.8, 0.8, 0.8, 0.8, 0.8,
    0.8, 0.8, 0.8, 0.8, 0.8, 0.8, 0.8, 0.8, 0.8, 1.0,
    1.0, 1.5, 1.5, 1.5, 2, 1.5, 1.5, 1.5, 1.5, 1.5,
    2, 2, 2, 2, 2.5, 1.5, 1.5, 1.5, 1.2, 1.2,
    1.5, 1.5, 2, 2, 2.5, 2, 2, 1.5, 1.5, 1.5,
    2, 2, 2, 1.5, 1.2, 1.0, 1.0, 1.0, 1.0, 1.0,
    1.2, 1.0, 1.0, 1.0, 1.0, 1.5, 1.2, 1.2, 1.0, 1.0,
    1.0, 1.2, 1.0, 1.2, 1.5, 1.5, 1.5, 2, 2, 2,
    2, 2, 2, 2.5, 2, 2, 1.5, 1.5, 1.5, 1.5,
    1.5, 1.5, 1.5, 1.5, 2, 2.5, 2, 1.5, 2, 1.5,
    2,
    3, 2, 2, 2, 2, 2, 2, 2, 2.5, 2,
    2, 1.5, 2, 1.5, 2, 2, 2, 1.5, 2, 1.5,
    2, 2.5, 2, 2, 1.5, 2, 2, 2, 2.5, 2,
    1.5, 2, 1.5, 2, 1.5, 1.5, 2, 1.5, 2, 1.5,
    1.5, 2, 2, 2, 2, 2, 2, 2, 1.5, 1.5,
    1.5, 1.5, 1.5, 2, 2, 2, 2, 2, 1.5, 2,
    1.5, 1.5, 1.5, 1.5, 1.5, 2, 1.5, 1.5, 2, 1.5,
    2.5, 3, 3, 3, 3.5, 3, 3, 3, 3, 3,
    3, 3, 3, 3, 3, 3.5, 3, 3, 3, 3,
    2, 1.5, 1.5, 1.5, 1.5, 1.5, 1.5, 1.5, 3, 3,
    4, 3.5, 3, 3, 3, 3, 3, 3, 3, 2,
    1.5, 1.5, 1.5, 1.5, 1.5, 1.5, 2, 1.5, 1.5, 2,
    1.5, 1.5, 2, 1.5, 1.0, 1.0, 1.0, 1.0, 1.0, 1.5,
    2, 1.5, 1.0, 1.0, 1.0, 1.0, 1.2, 1.0, 1.2, 1.0,
    1.2, 2, 1.5, 1.0, 1.2, 1.0, 1.0, 1.0, 1.2, 1.5,
    1.5, 2, 2, 2, 1.5, 1.2, 1.0, 1.0, 1.0, 1.0,
    1.0, 1.5, 1.0, 1.2, 1.0, 1.2, 1.5, 1.2, 1.0, 1.5,
    8, 8, 8, 8, 8, 8, 4, 3.5, 3, 3.5,
    3, 3, 2, 1.5,
]
CB3_POST_UNC = [
    1.5, 3, 2, 1.5, 1.5, 1.5, 1.5, 2, 2.5, 3,
    2, 1.5, 2, 1.5, 2.5, 2, 1.5, 1.0, 2, 1.0,
    1.0, 1.2, 1.2, 1.0, 1.0, 1.0, 1.5, 1.5, 1.5, 1.2,
    1.5, 2, 3, 3, 2, 2, 1.5, 1.0, 0.8, 0.8,
    0.8, 1.0, 1.0, 1.2, 1.5, 0.8, 0.8, 0.8, 1.2, 0.8,
    0.8, 0.8, 0.8, 0.8, 0.8, 0.8, 0.8, 1.2, 0.8, 0.8,
    0.8, 0.8, 0.8, 0.8, 0.8, 1.0, 0.8, 1.0, 1.2, 1.0,
    1.0, 1.0, 1.2, 1.0, 1.0, 1.0, 1.0, 1.0, 0.8, 0.8,
    1.0, 1.2, 1.5, 0.8, 0.6, 0.6, 0.6, 0.6, 0.6, 0.6,
    0.6, 0.6, 0.6, 0.6, 0.6, 0.6, 0.6, 0.6, 0.6, 0.8,
    0.8, 0.8, 1.0, 0.8, 1.5, 1.0, 1.2, 1.2, 1.0, 1.0,
    1.5, 1.2, 1.5, 2, 2, 1.2, 1.2, 1.2, 1.0, 1.0,
    1.2, 1.2, 1.2, 1.5, 2, 1.5, 1.2, 1.5, 1.0, 1.5,
    1.2, 2, 1.2, 1.0, 1.0, 0.8, 0.8, 0.8, 0.8, 0.8,
    0.8, 0.8, 0.8, 0.8, 0.8, 0.8, 0.8, 0.8, 0.8, 0.8,
    0.8, 0.8, 0.8, 0.8, 0.8, 0.8, 0.8, 1.2, 1.5, 1.0,
    1.2, 1.0, 1.5, 2, 1.2, 1.0, 0.8, 0.8, 0.8, 0.8,
    0.8, 0.8, 0.8, 0.8, 1.2, 1.5, 1.0, 0.8, 1.0, 0.8,
    1.0,
    .8, .7, .7, .7, .8, .7, .8, .7, .8, .7,
    .7, .6, .8, .6, .7, .6, .8, .7, .7, .6,
    .7, .9, .6, .7, .6, .7, .7, .8, 1.0, .8,
    .6, .6, .6, .6, .6, .6, .6, .6, .6, .6,
    .6, .6, .6, .7, .6, .8, .6, .8, .7, .6,
    .6, .6, .6, .8, .6, .8, .6, .8, .6, .7,
    .6, .6, .6, .6, .6, .7, .6, .6, .6, .6,
    .8, 1.0, .9, 1.2, 1.2, 1.0, 1.0, .9, 1.0, .9,
    1.0, .8, 1.0, .8, 1.0, 1.5, 1.0, 1.2, .9, 1.0,
    .7, .6, .6, .6, .6, .6, .6, .6, .8, 1.0,
    1.2, 1.0, 1.2, .8, .9, .8, .8, 1.0, 1.0, .8,
    .6, .6, .6, .6, .6, .6, .8, .6, .6, .8,
    .6, .6, .7, .6, .5, .5, .5, .5, .5, .6,
    .8, .6, .5, .5, .5, .5, .6, .5, .6, .5,
    .6, .8, .6, .5, .6, .5, .5, .5, .6, .6,
    .6, .7, .8, .7, .6, .6, .5, .5, .5, .5,
    .5, .7, .6, .6, .6, .6, .6, .6, .6, .5,
    1.0, 1.2, 1.0, 1.0, .9, .8, .9, 1.0, 1.0, 1.2,
    1.0, 1.0, .8, .6,
]
# days where the prior / posterior uncertainty shoots off the axis (day, half-width in ppb)
CB3_PRIOR_STREAKS = [
    (1, 10), (8, 9), (9, 10), (11, 10), (18, 10), (22, 8), (32, 10), (33, 10), (37, 9),
    (102, 10), (103, 10), (106, 10), (108, 10), (111, 10), (112, 10), (116, 10), (120, 10),
    (122, 10), (124, 10), (126, 10), (128, 10), (131, 10), (133, 10), (137, 10), (143, 10),
    (145, 10), (153, 10), (155, 10), (156, 10), (158, 10), (160, 10), (162, 10), (164, 10),
    (166, 10), (171, 10), (174, 10), (176, 10), (180, 10),
    (182, 10), (184, 10), (186, 10), (187, 10), (189, 10), (190, 10), (193, 10), (194, 10),
    (196, 10), (199, 10), (202, 10), (203, 10), (205, 10), (207, 10), (209, 10), (212, 10),
    (215, 10), (219, 10), (223, 10), (225, 10), (227, 10), (229, 10), (231, 10), (233, 10),
    (235, 10), (237, 10), (239, 10), (241, 10), (243, 10), (245, 10), (246, 10), (248, 10),
    (250, 10), (252, 10), (253, 10), (255, 10), (256, 10), (258, 10), (260, 10), (261, 10),
    (262, 10), (264, 10), (265, 10), (266, 10), (267, 10), (268, 10), (269, 10), (272, 10),
    (280, 10), (282, 10), (284, 8), (285, 10), (289, 10), (297, 8), (300, 10), (303, 8),
    (322, 10), (334, 8), (342, 8),
]
CB3_POST_STREAKS = [(1, 5), (9, 4), (30, 5), (33, 6), (49, 8), (76, 5), (113, 3), (124, 3)]
CB3_OBS = [
    (0.7, 320.7), (1.8, 321.8), (3.3, 323.1), (4.4, 322.0), (5.5, 321.8), (6.5, 321.9),
    (7.4, 322.0), (8.2, 324.5), (11.4, 322.2), (12.2, 321.6), (13.4, 324.5), (15.0, 325.4),
    (15.6, 322.2), (16.4, 322.8), (17.5, 321.0), (18.5, 320.8), (18.9, 324.5), (19.9, 321.5),
    (22.0, 322.0), (22.7, 322.2), (23.4, 322.2), (25.8, 321.0), (26.4, 321.4), (27.7, 323.2),
    (30.0, 321.6), (31.1, 326.0), (32.0, 329.4), (33.0, 324.0), (34.1, 320.3), (35.4, 321.0),
    (36.3, 320.8), (37.4, 320.2), (38.2, 320.0), (39.7, 321.3), (41.0, 322.1), (42.5, 324.1),
    (43.2, 321.6), (44.1, 321.3), (45.4, 320.3), (46.6, 321.0), (47.5, 321.6), (48.3, 322.0),
    (48.6, 322.8), (50.2, 321.8), (52.0, 321.5), (52.9, 321.2), (54.3, 321.8), (57.1, 320.3),
    (57.8, 319.6), (58.5, 319.6), (59.5, 320.3), (60.6, 321.2), (61.9, 320.8), (63.1, 321.2),
    (64.6, 320.7), (65.8, 320.0), (66.3, 320.0), (67.8, 320.8), (68.7, 321.0), (70.3, 321.0),
    (71.4, 321.3), (72.8, 321.5), (73.8, 321.6), (74.5, 321.7), (75.9, 321.5), (77.2, 321.2),
    (78.0, 320.4), (78.9, 320.0), (80.4, 319.8), (81.1, 320.2), (82.0, 323.3), (83.2, 320.6),
    (84.0, 320.5), (85.3, 320.8), (86.5, 320.4), (88.5, 320.5), (90.5, 320.3), (92.0, 320.3),
    (93.2, 320.2), (95.5, 320.2), (96.6, 320.5), (98.1, 320.5), (99.2, 320.1), (101.5, 320.2),
    (103.1, 320.3), (103.6, 320.5), (106.5, 320.3), (108.4, 321.0), (109.1, 321.0), (112.6, 322.6),
    (113.5, 322.7), (115.6, 321.4), (116.5, 321.6), (118.6, 320.4), (120.4, 320.5), (121.3, 321.0),
    (122.7, 324.3), (124.2, 324.0), (125.5, 321.0), (126.5, 320.8), (127.1, 321.3), (128.8, 322.5),
    (130.3, 322.3), (131.8, 323.6), (132.7, 323.7), (134.0, 320.4), (135.5, 320.8), (137.4, 319.6),
    (138.5, 319.9), (140.4, 322.6), (141.3, 320.5), (143.5, 320.8), (144.3, 321.5), (145.6, 321.5),
    (146.5, 321.4), (148.7, 320.1), (150.5, 320.4), (151.9, 320.5), (153.3, 320.6), (154.3, 320.2),
    (155.9, 320.6), (157.3, 320.8), (158.2, 321.8), (159.1, 322.2), (160.5, 323.7), (161.3, 321.4),
    (162.3, 321.0), (164.5, 320.6), (166.5, 320.3), (167.2, 320.4), (168.5, 321.0), (170.1, 320.6),
    (171.4, 320.4), (172.5, 320.5), (175.4, 322.5), (176.4, 321.7), (178.0, 320.3), (178.6, 320.4),
    (179.2, 320.5), (180.4, 321.2),
    (181.7, 320.7), (182.8, 320.5), (183.6, 320.2), (184.4, 321.5), (185.6, 321.5), (186.6, 320.9),
    (187.5, 321.5), (188.4, 319.6), (189.4, 320.6), (190.7, 320.5), (192.5, 321.5), (193.2, 322.1),
    (194.3, 319.9), (195.2, 320.1), (196.6, 320.1), (197.6, 320.4), (200.6, 321.4), (201.7, 320.4),
    (202.2, 324.9), (203.8, 321.6), (204.7, 320.2), (205.7, 321.2), (206.6, 321.9), (207.5, 325.8),
    (208.3, 322.6), (209.4, 323.3), (210.5, 321.0), (211.6, 320.1), (212.5, 321.1), (213.5, 320.6),
    (214.3, 320.8), (215.3, 320.8), (216.1, 320.0), (216.9, 320.8), (217.9, 321.0), (219.0, 319.8),
    (219.6, 319.6), (220.2, 318.5), (221.0, 320.0), (222.3, 321.5), (222.9, 322.7), (223.8, 320.6),
    (224.9, 323.0), (225.8, 321.5), (226.9, 320.5), (227.8, 321.2), (228.6, 321.8), (229.8, 320.5),
    (231.1, 321.0), (232.4, 320.8), (233.2, 320.5), (234.1, 323.0), (235.1, 322.5), (235.9, 321.9),
    (237.0, 322.7), (238.0, 320.3), (239.4, 319.7), (240.3, 320.6), (241.2, 321.0), (243.6, 323.4),
    (244.3, 323.5), (245.4, 321.1), (248.0, 320.3), (249.6, 320.6), (250.6, 319.4), (251.6, 320.2),
    (252.4, 321.2), (253.6, 323.1), (254.4, 326.2), (255.2, 327.0), (255.7, 325.6), (256.6, 322.0),
    (258.2, 324.2), (259.5, 323.5), (260.4, 322.6), (261.4, 319.6), (262.3, 320.4), (263.4, 322.2),
    (264.4, 323.3), (265.3, 322.5), (266.1, 322.2), (266.8, 325.0), (267.5, 322.4), (268.5, 322.5),
    (269.8, 322.0), (271.0, 320.8), (272.8, 321.1), (273.5, 322.9), (274.6, 321.0), (276.9, 318.2),
    (278.4, 321.3), (279.6, 324.0), (280.8, 325.4), (281.6, 323.3), (282.2, 328.0), (284.2, 321.0),
    (285.5, 324.0), (286.7, 322.9), (287.7, 322.8), (289.6, 324.1), (290.5, 325.7), (291.4, 321.7),
    (292.5, 320.9), (293.6, 320.8), (294.6, 320.8), (295.7, 320.8), (296.4, 320.7), (297.4, 324.8),
    (298.6, 324.6), (300.5, 327.2), (301.5, 320.8), (302.5, 324.1), (303.5, 321.4), (309.4, 319.0),
    (310.5, 323.5), (312.4, 320.0), (313.5, 326.3), (314.4, 320.4), (315.4, 320.1), (317.3, 321.4),
    (318.4, 322.2), (319.5, 320.9), (320.5, 320.9), (321.4, 321.7), (322.3, 322.2), (325.4, 322.2),
    (329.2, 320.9), (329.9, 323.1), (331.3, 322.5), (332.3, 322.4), (333.3, 326.6), (335.4, 323.8),
    (336.4, 320.9), (339.5, 321.3), (340.7, 321.3), (342.3, 321.3), (343.4, 323.1), (344.1, 321.7),
    (345.2, 322.9), (346.2, 323.8), (347.3, 322.6), (349.3, 320.9), (351.1, 325.1), (352.2, 323.4),
    (353.3, 323.5), (354.2, 320.9), (355.3, 324.1), (357.2, 324.0), (358.3, 322.1), (359.4, 323.3),
    (360.3, 326.8), (361.5, 323.8), (363.2, 322.9),
]

# ---- Text content ----
STATION_HEADERS = [
    ["MHD_AGA_000", "53.33N", "-9.90W", "25.0masl", "Mace Head, Ireland"],
    ["BI5_CHI_000", "52.25N", "22.75E", "460.0masl", "Bialystok, Poland, base: 160m, tower level:300m"],
    ["CB3_CHI_000", "51.97N", "4.93E", "118.0masl", "Cabauw, Netherlands, base: -2m, tower level:120.0m"],
]
PERIODS = ["01 01 2006 - 01 07 2006", "01 07 2006 - 01 01 2007"]
CHI2_APRI = ["1.4", "5.9", "2.6"]
CHI2_APOS = ["0.4", "1.1", "1.3"]
N_OBS = ["332", "56", "314"]
STATION_ID = ["5", "6", "7"]
OFFSETS = ["-0.0", "0.3", "0.2"]
MODEL_RUN = ["0.0maTM5s", "300.6maTM5s", "98.5maTM5s"]
X_TICKS_FIRST = [0, 50, 100, 150]
X_TICKS_SECOND = [200, 250, 300, 350]

STATIONS = [
    dict(prior=MHD_PRIOR, post=MHD_POST, pu=MHD_PRIOR_UNC, qu=MHD_POST_UNC, obs=MHD_OBS,
         ps=MHD_PRIOR_STREAKS, qs=MHD_POST_STREAKS),
    dict(prior=BI5_PRIOR, post=BI5_POST, pu=BI5_PRIOR_UNC, qu=BI5_POST_UNC, obs=BI5_OBS,
         ps=BI5_PRIOR_STREAKS, qs=BI5_POST_STREAKS),
    dict(prior=CB3_PRIOR, post=CB3_POST, pu=CB3_PRIOR_UNC, qu=CB3_POST_UNC, obs=CB3_OBS,
         ps=CB3_PRIOR_STREAKS, qs=CB3_POST_STREAKS),
]
for st in STATIONS:
    for k in ("prior", "post", "pu", "qu"):
        assert len(st[k]) == 365, (k, len(st[k]))

# ============================ LAYOUT ============================
W, H = 1640, 1235
PLOT_L, PLOT_R = 72, 1405
TOPS = [23, 228, 435, 640, 844, 1049]
BOTS = [180, 386, 589, 795, 1000, 1206]
Y_RANGES = [[315.25, 330.7], [315.1, 325.0], [315.25, 330.7]]
Y_TICKS = [[316, 318, 320, 322, 324, 326, 328, 330], [316, 318, 320, 322, 324],
           [316, 318, 320, 322, 324, 326, 328, 330]]
HEADER_X = [
    [69, 226, 306, 399, 508],
    [69, 217, 300, 386, 515],
    [69, 223, 314, 388, 485],
]
FONT = "Liberation Sans, Arial, sans-serif"
TXT = "#1a1a1a"
RED = "rgb(225,35,35)"
BLUE = "rgb(45,45,225)"
PINK_FILL = "rgba(255,120,120,0.26)"
BLUE_FILL = "rgba(110,110,255,0.26)"
PINK_STREAK = "rgba(255,140,140,0.42)"
BLUE_STREAK = "rgba(120,120,255,0.40)"


def fx(px):
    return px / W


def fy(py):
    return 1 - py / H


fig = go.Figure()
annotations = []


def ann(text, x, y, size=19, xanchor="left", angle=0, color=TXT):
    annotations.append(dict(
        text=text, x=fx(x), y=fy(y), xref="paper", yref="paper",
        xanchor=xanchor, yanchor="middle", showarrow=False, textangle=angle, borderpad=0,
        font=dict(family=FONT, size=size, color=color)))


for p in range(6):
    s, half = p // 2, p % 2
    st = STATIONS[s]
    xa = "x" if p == 0 else f"x{p + 1}"
    ya = "y" if p == 0 else f"y{p + 1}"
    lo_d, hi_d = (0, 181) if half == 0 else (181, 364)
    idx = range(lo_d, hi_d + 1)
    d = [DAYS[i] for i in idx]
    pr = [st["prior"][i] for i in idx]
    po = [st["post"][i] for i in idx]
    pu = [st["pu"][i] for i in idx]
    qu = [st["qu"][i] for i in idx]

    for vals, unc, col in ((pr, pu, PINK_FILL), (po, qu, BLUE_FILL)):
        up = [v + u for v, u in zip(vals, unc)]
        lo = [v - u for v, u in zip(vals, unc)]
        fig.add_trace(go.Scatter(
            x=d + d[::-1], y=up + lo[::-1], fill="toself", fillcolor=col,
            line=dict(width=0), mode="lines", hoverinfo="skip",
            xaxis=xa, yaxis=ya, showlegend=False))
    for streaks, series, col in ((st["ps"], st["prior"], PINK_STREAK), (st["qs"], st["post"], BLUE_STREAK)):
        sx, sy = [], []
        for day, hw in streaks:
            if lo_d <= day <= hi_d:
                c = series[day]
                sx += [day, day, None]
                sy += [c - hw, c + hw, None]
        if sx:
            fig.add_trace(go.Scatter(x=sx, y=sy, mode="lines", line=dict(color=col, width=3.5),
                                     hoverinfo="skip", xaxis=xa, yaxis=ya, showlegend=False))
    fig.add_trace(go.Scatter(x=d, y=po, mode="lines", line=dict(color=BLUE, width=1.2),
                             xaxis=xa, yaxis=ya, showlegend=False))
    fig.add_trace(go.Scatter(x=d, y=pr, mode="lines", line=dict(color=RED, width=1.2),
                             xaxis=xa, yaxis=ya, showlegend=False))
    ob = [o for o in st["obs"] if lo_d <= o[0] <= hi_d + 1]
    fig.add_trace(go.Scatter(
        x=[o[0] for o in ob], y=[o[1] for o in ob], mode="markers",
        marker=dict(symbol="square", size=4.5, color="black"),
        xaxis=xa, yaxis=ya, showlegend=False))

    xr = [0, 181] if half == 0 else [181, 365]
    xt = X_TICKS_FIRST if half == 0 else X_TICKS_SECOND
    axis_common = dict(showline=True, linecolor="#6a6a6a", linewidth=1.6, mirror="ticks",
                       ticks="inside", tickcolor="#6a6a6a", ticklen=7, tickwidth=1,
                       showgrid=False, zeroline=False,
                       tickfont=dict(family=FONT, size=16, color="#555"))
    xkey = "xaxis" if p == 0 else f"xaxis{p + 1}"
    ykey = "yaxis" if p == 0 else f"yaxis{p + 1}"
    fig.update_layout(**{
        xkey: dict(axis_common, domain=[fx(PLOT_L), fx(PLOT_R)], range=xr, anchor=ya,
                   tickmode="array", tickvals=xt, ticklabelstandoff=4,
                   minor=dict(tick0=0, dtick=10, ticks="inside", ticklen=7, tickcolor="#6a6a6a")),
        ykey: dict(axis_common, domain=[fy(BOTS[p]), fy(TOPS[p])], range=Y_RANGES[s], anchor=xa,
                   tickmode="array", tickvals=Y_TICKS[s],
                   minor=dict(tick0=316, dtick=0.5, ticks="inside", ticklen=3.5, tickcolor="#6a6a6a")),
    })

    ann("N<sub>2</sub>O [ppb]", 21, (TOPS[p] + BOTS[p]) / 2, size=15, xanchor="center", angle=-90, color="#444")
    ann(PERIODS[half].replace(" ", "\u00a0\u00a0"), 1002, TOPS[p] - 10)

for s in range(3):
    ptop = TOPS[2 * s]
    for txt, xpos in zip(STATION_HEADERS[s], HEADER_X[s]):
        ann(txt, xpos, ptop - 10)
    off = [0, 409, 819][s]
    ann("X<sup>2</sup><sub>APRI</sub>=", 1420, 91 + off)
    ann(CHI2_APRI[s], 1543, 91 + off, xanchor="right")
    ann("X<sup>2</sup><sub>APOS</sub>=", 1420, 115 + off)
    ann(CHI2_APOS[s], 1546, 115 + off, xanchor="right")
    ann("n=", 1420, 139 + off)
    ann(N_OBS[s], 1562, 139 + off, xanchor="right")
    ann("id=\u00a0" + STATION_ID[s], 1420, 163 + off)
    ann("offset=", 1506, 163 + off)
    ann(OFFSETS[s], 1624, 163 + off, xanchor="right")
    ann("eur1x1", 1420, [272, 681, 1091][s])
    ann(MODEL_RUN[s], 1621, [272, 681, 1091][s], xanchor="right")

fig.update_layout(
    width=W, height=H, margin=dict(l=0, r=0, t=0, b=0),
    paper_bgcolor="white", plot_bgcolor="white",
    annotations=annotations, showlegend=False,
    font=dict(family=FONT, color=TXT),
)
fig.write_html("out.html", config={"displayModeBar": False},
               post_script="document.body.style.margin='0';document.body.style.padding='0';")
